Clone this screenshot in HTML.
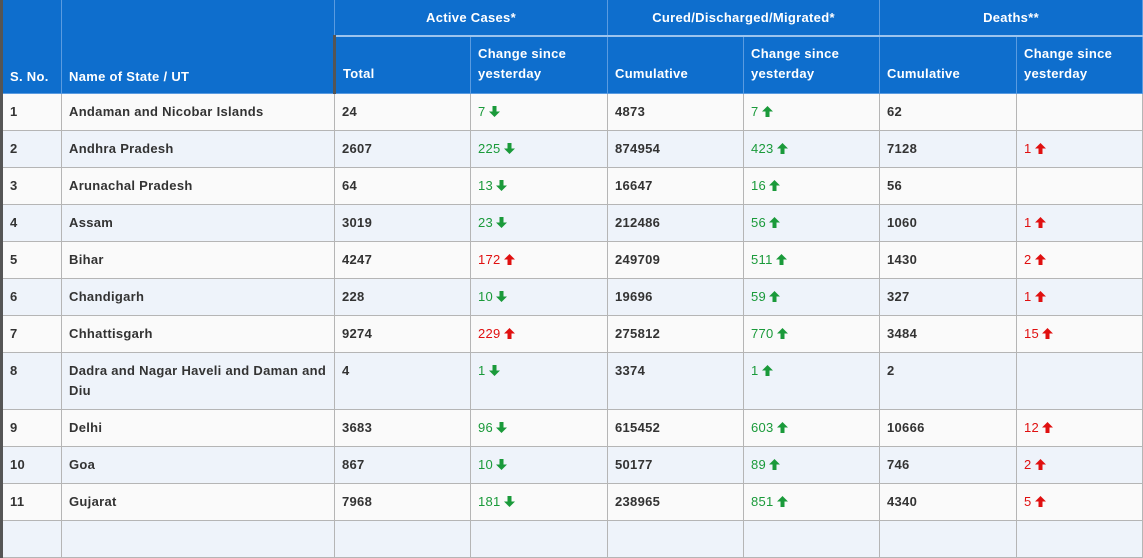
<!DOCTYPE html>
<html><head><meta charset="utf-8">
<style>
html,body{margin:0;padding:0;background:#fff;width:1143px;height:525px;overflow:hidden}
table{border-collapse:collapse;table-layout:fixed;font-family:"Liberation Sans",Arial,sans-serif;font-size:13px;letter-spacing:0.3px;position:absolute;left:0;top:0;width:1141px}
th{background:#0e6ecd;color:#fff;font-weight:bold;text-align:left;padding:0 7px;border:1px solid #5a9be0;border-top:none;box-sizing:border-box}
th.grp{text-align:center;height:36px;border-bottom:2px solid #9cc4ee}
tr.h2 th{height:57px;vertical-align:bottom;padding-bottom:9px;line-height:20px}
th.rs{vertical-align:bottom;padding-bottom:9px}
td{border:1px solid #b5b5b5;height:37px;box-sizing:border-box;padding:0 7px;color:#333;font-weight:bold;vertical-align:middle;line-height:20px}
tr.alt td{background:#eef3fa}
tr.odd td{background:#fafafa}
td.g{color:#1a9a3a;font-weight:normal}
td.r{color:#e01010;font-weight:normal}
td:first-child,th:first-child{border-left:3px solid #555}
svg{vertical-align:-1px;margin-left:3px}
tr.tall td{height:57px;vertical-align:top;padding-top:8px}
</style></head><body>
<table>
<colgroup><col style="width:60px"><col style="width:273px"><col style="width:136px"><col style="width:137px"><col style="width:136px"><col style="width:136px"><col style="width:137px"><col style="width:126px"></colgroup>
<thead>
<tr>
<th rowspan="2" class="rs">S. No.</th>
<th rowspan="2" class="rs">Name of State / UT</th>
<th colspan="2" class="grp">Active Cases*</th>
<th colspan="2" class="grp">Cured/Discharged/Migrated*</th>
<th colspan="2" class="grp">Deaths**</th>
</tr>
<tr class="h2">
<th>Total</th>
<th>Change since yesterday</th>
<th>Cumulative</th>
<th>Change since yesterday</th>
<th>Cumulative</th>
<th>Change since yesterday</th>
</tr>
</thead>
<tbody id="tb"></tbody>
</table>
<script>
const names=["Andaman and Nicobar Islands","Andhra Pradesh","Arunachal Pradesh","Assam","Bihar","Chandigarh","Chhattisgarh","Dadra and Nagar Haveli and Daman and Diu","Delhi","Goa","Gujarat",""];
const activeTotal=["24","2607","64","3019","4247","228","9274","4","3683","867","7968",""];
const activeChange=[[7,-1],[225,-1],[13,-1],[23,-1],[172,1],[10,-1],[229,1],[1,-1],[96,-1],[10,-1],[181,-1],null];
const curedCum=["4873","874954","16647","212486","249709","19696","275812","3374","615452","50177","238965",""];
const curedChange=[7,423,16,56,511,59,770,1,603,89,851,null];
const deathsCum=["62","7128","56","1060","1430","327","3484","2","10666","746","4340",""];
const deathsChange=[null,1,null,1,2,1,15,null,12,2,5,null];
function arrow(up,color){
 return '<svg width="11" height="11" viewBox="0 0 11 11"><path d="'+(up?'M5.5 0 L11 5.5 L7.5 5.5 L7.5 11 L3.5 11 L3.5 5.5 L0 5.5Z':'M5.5 11 L11 5.5 L7.5 5.5 L7.5 0 L3.5 0 L3.5 5.5 L0 5.5Z')+'" fill="'+color+'"/></svg>';
}
const tb=document.getElementById('tb');
names.forEach((n,i)=>{
 const tr=document.createElement('tr');
 
 
 tr.className=(i%2?'alt':'odd')+(i===7?' tall':'');
 const cells=[];
 cells.push(['',n?String(i+1):'']);
 cells.push(['',n]);
 cells.push(['',activeTotal[i]]);
 const ac=activeChange[i];
 if(ac){const up=ac[1]>0;const c=up?'#e01010':'#1a9a3a';cells.push([up?'r':'g',ac[0]+arrow(up,c)]);}else cells.push(['','']);
 cells.push(['',curedCum[i]]);
 cells.push(['g',curedChange[i]!=null?curedChange[i]+arrow(true,'#1a9a3a'):'']);
 cells.push(['',deathsCum[i]]);
 cells.push(['r',deathsChange[i]!=null?deathsChange[i]+arrow(true,'#e01010'):'']);
 const cn=['sno-cell','state-name-cell','active-total-cell','active-change-cell','cured-cumulative-cell','cured-change-cell','deaths-cumulative-cell','deaths-change-cell'];
 cells.forEach((c,j)=>{
  const td=document.createElement('td');
  
  
  if(c[0])td.className=c[0];
  td.innerHTML=c[1];
  tr.appendChild(td);
 });
 tb.appendChild(tr);
});
</script>
</body></html>
